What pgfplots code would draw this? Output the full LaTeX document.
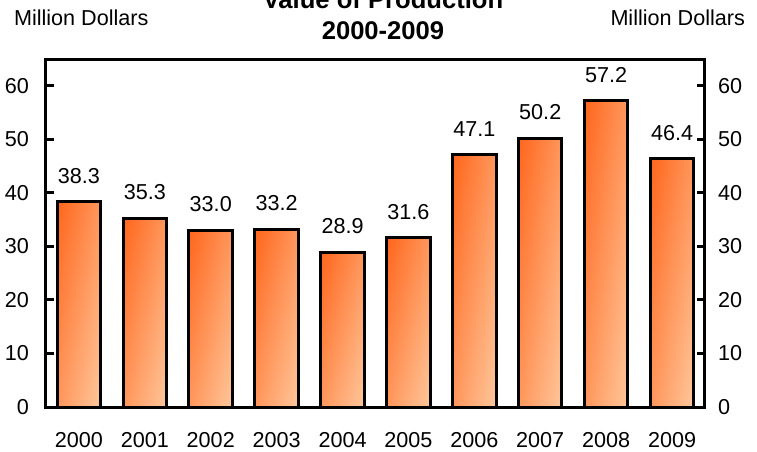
\documentclass[border=0pt]{standalone}
\usepackage{pgfplots}
\pgfplotsset{compat=1.18}
\usepackage{fontspec}
\setmainfont{Liberation Sans}
\pgfdeclarefunctionalshading{barshade}{\pgfpoint{-50bp}{-50bp}}{\pgfpoint{50bp}{50bp}}{}{
  neg add 50 add 100 div
  dup 0 lt {pop 0} if
  dup 1 gt {pop 1} if
  dup 0.38 mul 0.40 add
  exch 0.50 mul 0.11 add
  1 3 1 roll
}
\pgfplotsset{
  mybar/.style={draw=black, line width=1.5pt, shade, shading=barshade, shading angle=0,
  bar shift=0pt,
  nodes near coords, point meta=y,
  nodes near coords style={text=black, font=\fontsize{10.8}{13}\selectfont, anchor=center, yshift=13pt,
    /pgf/number format/.cd, fixed, fixed zerofill, precision=1, assume math mode=true}},
}
\begin{document}
\begin{tikzpicture}
\begin{axis}[
  at={(0,0)}, anchor=south west,
  scale only axis, width=329.5pt, height=174pt,
  xmin=-0.5, xmax=9.5, ymin=0, ymax=65,
  ybar, bar width=21.75pt,
  axis line style={line width=1.5pt},
  xtick={0,1,2,3,4,5,6,7,8,9},
  xticklabels={2000,2001,2002,2003,2004,2005,2006,2007,2008,2009},
  xtick style={draw=none},
  ytick={0,10,20,30,40,50,60},
  ytick pos=left,
  tick align=inside,
  major tick length=4pt,
  ytick style={black, line width=1.5pt},
  /pgf/number format/assume math mode=true,
  tick label style={font=\fontsize{10.8}{13}\selectfont},
  xticklabel style={yshift=-9pt},
  yticklabel style={xshift=-5pt},
]
\addplot[mybar] coordinates {(0,38.3)};
\addplot[mybar] coordinates {(1,35.3)};
\addplot[mybar] coordinates {(2,33.0)};
\addplot[mybar] coordinates {(3,33.2)};
\addplot[mybar] coordinates {(4,28.9)};
\addplot[mybar] coordinates {(5,31.6)};
\addplot[mybar] coordinates {(6,47.1)};
\addplot[mybar] coordinates {(7,50.2)};
\addplot[mybar] coordinates {(8,57.2)};
\addplot[mybar] coordinates {(9,46.4)};
\end{axis}
\begin{axis}[
  at={(0,0)}, anchor=south west,
  scale only axis, width=329.5pt, height=174pt,
  xmin=-0.5, xmax=9.5, ymin=0, ymax=65,
  axis x line=none, axis y line*=right,
  axis line style={line width=1.5pt, -},
  ytick={0,10,20,30,40,50,60},
  tick align=inside,
  major tick length=4pt,
  ytick style={black, line width=1.5pt},
  /pgf/number format/assume math mode=true,
  tick label style={font=\fontsize{10.8}{13}\selectfont},
  yticklabel style={xshift=3pt},
]
\addplot[draw=none] coordinates {(0,0)};
\end{axis}
\node[font=\fontsize{10.8}{13}\selectfont, anchor=west] at (-19.5pt,194.5pt) {Million Dollars};
\node[font=\fontsize{10.8}{13}\selectfont, anchor=east] at (353pt,194.5pt) {Million Dollars};
\node[font=\bfseries\fontsize{12.8}{15}\selectfont] at (168.5pt,204pt) {Value of Production};
\node[font=\bfseries\fontsize{12.8}{15}\selectfont] at (168.5pt,188pt) {2000-2009};
\pgfresetboundingbox
\path[use as bounding box] (-23pt,-22pt) rectangle (355.5pt,203.5pt);
\end{tikzpicture}
\end{document}
